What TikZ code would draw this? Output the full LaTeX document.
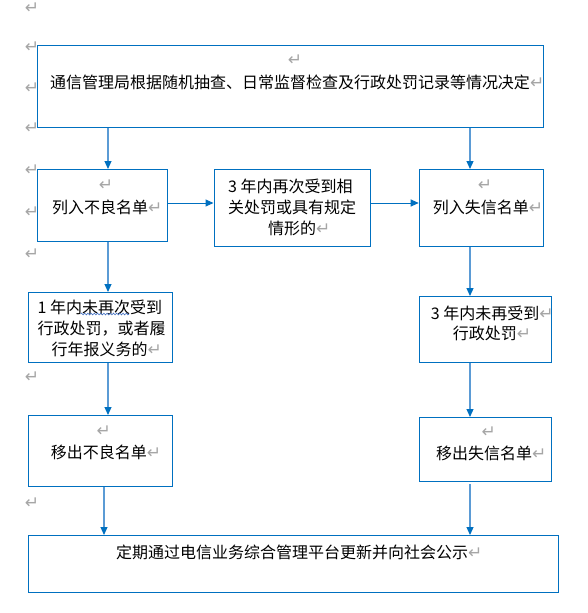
\documentclass[tikz,border=0pt]{standalone}
\usepackage{fontspec}
\setmainfont{Noto Sans CJK SC}
\newfontfamily\djv{DejaVu Sans}
\usetikzlibrary{arrows.meta,decorations.pathmorphing}
\definecolor{boxblue}{HTML}{0070C0}
\definecolor{lineblue}{HTML}{5B9BD5}
\definecolor{pmgray}{HTML}{A6A6A6}
\definecolor{spellblue}{HTML}{4472C4}
\newcommand\pmk{{\djv\fontsize{17}{17}\selectfont\textcolor{pmgray}{↵}}}
\begin{document}
\begin{tikzpicture}[x=1pt,y=-1pt,
  box/.style={draw=boxblue, fill=white, line width=0.9pt, inner sep=0pt, anchor=north west},
  txt/.style={font=\fontsize{16}{21}\selectfont, inner sep=0pt, align=left, anchor=west},
  pm/.style={font=\djv\fontsize{17}{17}\selectfont, text=pmgray, inner sep=0pt},
  varr/.style={draw=lineblue, line width=1.2pt, -{Triangle[length=8pt,width=7pt,color=boxblue]}},
  harr/.style={draw=boxblue, line width=1pt, -{Triangle[length=8pt,width=7pt]}}]
\useasboundingbox[fill=white] (0,0) rectangle (587,613);

% margin paragraph marks
\foreach \yy/\nm in {8/m1,47/m2,88/m3,128/m4,170/m5,212/m6,254/m7,377/m8,503/m9}
  \node[pm] (\nm) at (32,\yy) {↵};

% boxes
\node[box, minimum width=506pt, minimum height=82pt] (top) at (36.5,45) {};
\node[box, minimum width=130pt, minimum height=72pt] (l1) at (36.5,169) {};
\node[box, minimum width=156pt, minimum height=77pt] (mid) at (213.5,169) {};
\node[box, minimum width=124pt, minimum height=77pt] (r1) at (418.7,169) {};
\node[box, minimum width=143.5pt, minimum height=70pt] (l2) at (28,292) {};
\node[box, minimum width=132pt, minimum height=66pt] (r2) at (418.7,296) {};
\node[box, minimum width=143.5pt, minimum height=71pt] (l3) at (28,415) {};
\node[box, minimum width=132pt, minimum height=64pt] (r3) at (418.7,417) {};
\node[box, minimum width=529.5pt, minimum height=57pt] (bot) at (28,535) {};

% texts
\node[txt] (t0) at (49.8,82) {通信管理局根据随机抽查、日常监督检查及行政处罚记录等情况决定\pmk};
\node[txt] (t1) at (52,207) {列入不良名单\pmk};
\node[txt] (t2) at (228,207) {3 年内再次受到相\\关处罚或具有规定\\\hspace*{40pt}情形的\pmk};
\node[txt] (t3) at (432.6,207) {列入失信名单\pmk};
\node[txt] (t4) at (37.5,328) {1 年内未再次受到\\行政处罚，或者履\\\hspace*{14pt}行年报义务的\pmk};
\node[txt, font=\fontsize{16}{20}\selectfont] (t5) at (430.7,323) {3 年内未再受到\pmk\\\hspace*{22pt}行政处罚\pmk};
\node[txt] (t6) at (50.6,452) {移出不良名单\pmk};
\node[txt] (t7) at (436,453) {移出失信名单\pmk};
\node[txt] (t8) at (116,552) {定期通过电信业务综合管理平台更新并向社会公示\pmk};

% spell-check wavy underline
\coordinate (w1) at (80.5,314);
\coordinate (w2) at (129,314);
\draw[spellblue, line width=0.6pt, decorate, decoration={snake, amplitude=0.9pt, segment length=3.2pt}] (w1) -- (w2);

% paragraph marks on empty lines inside boxes
\node[pm] (p1) at (295,60) {↵};
\node[pm] (p3) at (106,185) {↵};
\node[pm] (p6) at (485,185) {↵};
\node[pm] (p11) at (103.7,431) {↵};
\node[pm] (p13) at (488.8,432) {↵};

% connectors
\coordinate (xl) at (108,0);
\coordinate (xr) at (470,0);
\coordinate (xb) at (104,0);
\coordinate (ym) at (0,203);
\draw[varr] (top.south -| xl) -- (l1.north -| xl);
\draw[varr] (top.south -| xr) -- (r1.north -| xr);
\draw[harr] (l1.east |- ym) -- (mid.west |- ym);
\draw[harr] (mid.east |- ym) -- (r1.west |- ym);
\draw[varr] (l1.south -| xl) -- (l2.north -| xl);
\draw[varr] (r1.south -| xr) -- (r2.north -| xr);
\draw[varr] (l2.south -| xl) -- (l3.north -| xl);
\draw[varr] (r2.south -| xr) -- (r3.north -| xr);
\draw[varr] (l3.south -| xb) -- (bot.north -| xb);
\draw[varr] ([yshift=-2pt]r3.south -| xr) -- (bot.north -| xr);
\end{tikzpicture}
\end{document}
